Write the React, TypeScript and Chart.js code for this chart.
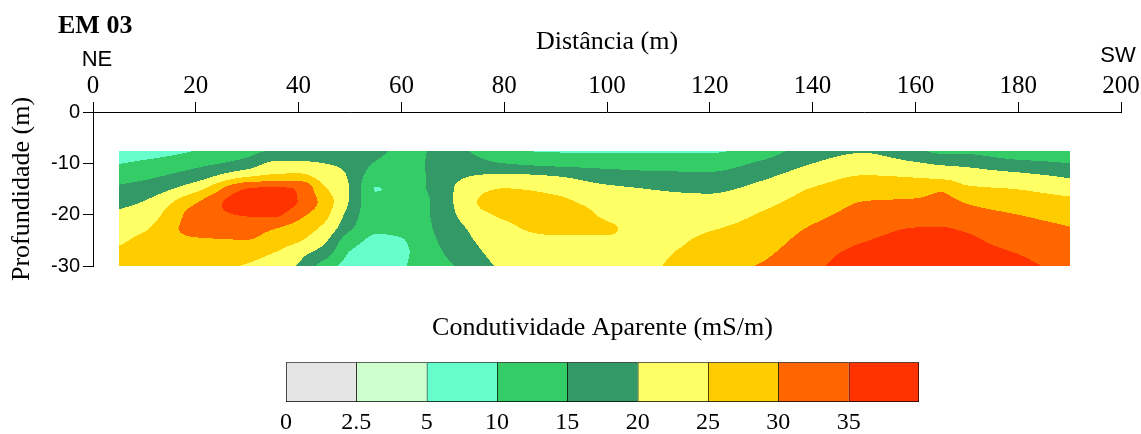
import React, { useEffect, useRef } from 'react';
import { Chart, registerables } from 'chart.js';

Chart.register(...registerables);

const SERIF = '"Liberation Serif", "Times New Roman", serif';
const SANS = '"Liberation Sans", Arial, sans-serif';

// Station positions along the profile (m) and investigation depths (m)
const distances = [5, 10, 20, 30, 35, 40, 45, 50, 55, 60, 70, 80, 90, 100, 110, 120, 130, 140, 150, 160, 165, 170, 180, 190];
const depths = [-7.5, -10, -12.5, -15, -17.5, -20, -22.5, -25, -27.5, -30];

// Apparent conductivity (mS/m), one row per depth, one value per station
const condAt7_5 = [6.5, 7, 10, 13, 15.5, 17.5, 17.5, 17, 16.5, 14, 16, 10.6, 9.4, 9.3, 9.3, 9.3, 12.2, 17.5, 19.5, 16, 13.5, 13.5, 11, 12];
const condAt10 = [9.8, 11, 13.6, 17, 20.8, 20.7, 20, 19, 14.6, 13, 17.5, 15, 13.5, 13.1, 12.8, 12.8, 15.8, 20, 22.2, 20.5, 19.3, 18.8, 16.5, 15];
const condAt12_5 = [12.9, 14, 17.6, 24.5, 26, 26.5, 22.5, 19.5, 12, 12, 19, 21, 20, 17.5, 16.4, 16.1, 19, 22.7, 25.2, 24.6, 23.7, 22.5, 21.3, 19.4];
const condAt15 = [16, 17.2, 23.4, 35.2, 36, 34.6, 25.8, 19.7, 9.9, 11.2, 19.9, 25.2, 23.5, 21, 19.8, 19.2, 21.5, 25.3, 27.6, 27.8, 29.3, 26, 24.9, 22.9];
const condAt17_5 = [18.6, 20.2, 29.5, 38, 38.5, 34.8, 28, 19.5, 11, 10.8, 19.9, 28.5, 26.4, 22.8, 21.2, 21.2, 23.6, 27.1, 30.1, 30.7, 31.6, 29.6, 27.7, 26.4];
const condAt20 = [20.8, 22.3, 32, 35.5, 36, 31.5, 26.5, 18, 11.3, 11, 19.5, 26, 28, 24.2, 22.2, 22.8, 25.4, 28.7, 31.6, 32.8, 33.4, 31.8, 30, 28.6];
const condAt22_5 = [22.5, 24.3, 31.6, 31.7, 30.5, 28, 24, 16, 10.6, 10.8, 18.5, 23.8, 26.8, 25.5, 23, 24.5, 26.8, 30.4, 33.3, 35, 35.1, 34.3, 31.5, 30.1];
const condAt25 = [24.1, 26.3, 29.5, 29.9, 28, 25.5, 21, 12, 9.3, 9.8, 17.5, 22.5, 23.8, 24.5, 23.7, 26.1, 28, 31.8, 34.8, 36.3, 36.5, 35.8, 33, 31.4];
const condAt27_5 = [26.2, 27.5, 28, 27, 25, 21.5, 17.5, 9.7, 8.2, 9.3, 16.2, 21.5, 22.4, 23.5, 24.3, 27.5, 29.2, 33, 36.3, 37.2, 37.3, 36.8, 34.9, 32.5];
const condAt30 = [27.5, 28.5, 27, 24.5, 22, 19.6, 12.5, 8.5, 7.5, 9.5, 14.8, 20.6, 21.5, 23, 24.8, 28.6, 30.3, 34, 37.5, 37.8, 37.8, 37.5, 36, 33.6];

const conductivityRows = [condAt7_5, condAt10, condAt12_5, condAt15, condAt17_5, condAt20, condAt22_5, condAt25, condAt27_5, condAt30];

// Colour classes (upper limits) and the colour scale labels
const classLimits = [2.5, 5, 10, 15, 20, 25, 30, 35];
const classColors = ['#e5e5e5', '#ccffcc', '#66ffcc', '#33cc66', '#339966', '#ffff66', '#ffcc00', '#ff6600', '#ff3300'];
const classLabels = ['0', '2.5', '5', '10', '15', '20', '25', '30', '35'];

// Monotone piecewise cubic (PCHIP) helpers
function pchipSlopes(xs: number[], ys: number[]): number[] {
  const n = xs.length;
  const h: number[] = [];
  const d: number[] = [];
  for (let i = 0; i < n - 1; i++) {
    h.push(xs[i + 1] - xs[i]);
    d.push((ys[i + 1] - ys[i]) / h[i]);
  }
  const m = new Array(n).fill(0);
  for (let i = 1; i < n - 1; i++) {
    if (d[i - 1] * d[i] <= 0) {
      m[i] = 0;
    } else {
      const w1 = 2 * h[i] + h[i - 1];
      const w2 = h[i] + 2 * h[i - 1];
      m[i] = (w1 + w2) / (w1 / d[i - 1] + w2 / d[i]);
    }
  }
  m[0] = d[0];
  m[n - 1] = d[n - 2];
  return m;
}

function pchipEval(xs: number[], ys: number[], m: number[], x: number): number {
  const n = xs.length;
  if (x <= xs[0]) return ys[0];
  if (x >= xs[n - 1]) return ys[n - 1];
  let i = 0;
  while (i < n - 2 && x > xs[i + 1]) i++;
  const h = xs[i + 1] - xs[i];
  const t = (x - xs[i]) / h;
  const t2 = t * t;
  const t3 = t2 * t;
  return (2 * t3 - 3 * t2 + 1) * ys[i] + (t3 - 2 * t2 + t) * h * m[i] + (-2 * t3 + 3 * t2) * ys[i + 1] + (t3 - t2) * h * m[i + 1];
}

function hexToRgb(hex: string): number[] {
  const v = parseInt(hex.slice(1), 16);
  return [(v >> 16) & 255, (v >> 8) & 255, v & 255];
}

function classIndex(v: number): number {
  let k = 0;
  while (k < classLimits.length && v >= classLimits[k]) k++;
  return k;
}

// Filled conductivity section, sampled pixel by pixel through the chart scales
const sectionPlugin = {
  id: 'conductivitySection',
  afterDraw(chart: any) {
    const { ctx } = chart;
    const xs = chart.scales.x;
    const ys = chart.scales.y;
    const left = Math.round(xs.getPixelForValue(distances[0]));
    const right = Math.round(xs.getPixelForValue(distances[distances.length - 1]));
    const top = Math.round(ys.getPixelForValue(depths[0]));
    const bottom = Math.round(ys.getPixelForValue(depths[depths.length - 1]));
    const w = right - left;
    const h = bottom - top;
    if (w > 0 && h > 0) {
      const off = document.createElement('canvas');
      off.width = w;
      off.height = h;
      const octx = off.getContext('2d')!;
      const img = octx.createImageData(w, h);
      const rgb = classColors.map(hexToRgb);
      const depthKeys = depths.map((d) => -d);
      const columns = distances.map((_, j) => conductivityRows.map((r) => r[j]));
      const colSlopes = columns.map((c) => pchipSlopes(depthKeys, c));
      for (let py = 0; py < h; py++) {
        const depth = -ys.getValueForPixel(top + py + 0.5);
        const rowVals = columns.map((c, j) => pchipEval(depthKeys, c, colSlopes[j], depth));
        const rowSlopes = pchipSlopes(distances, rowVals);
        for (let px = 0; px < w; px++) {
          const dist = xs.getValueForPixel(left + px + 0.5);
          const v = pchipEval(distances, rowVals, rowSlopes, dist);
          const c = rgb[classIndex(v)];
          const o = (py * w + px) * 4;
          img.data[o] = c[0];
          img.data[o + 1] = c[1];
          img.data[o + 2] = c[2];
          img.data[o + 3] = 255;
        }
      }
      octx.putImageData(img, 0, 0);
      ctx.drawImage(off, left, top);
    }

    // Section name and profile orientation
    ctx.save();
    ctx.fillStyle = '#000';
    ctx.textBaseline = 'alphabetic';
    ctx.textAlign = 'left';
    ctx.font = `bold 26px ${SERIF}`;
    ctx.fillText('EM 03', 58, 33);
    ctx.font = `22px ${SANS}`;
    ctx.textAlign = 'center';
    ctx.fillText('NE', xs.getPixelForValue(0) + 4, 66);
    ctx.fillText('SW', xs.getPixelForValue(200) - 3, 62);
    ctx.restore();
  },
};

const tickMarks = { display: true, drawOnChartArea: false, drawTicks: true, tickLength: 10, color: '#000', lineWidth: 1 };
const axisLine = { display: true, color: '#000', width: 1 };

export default function App() {
  const sectionRef = useRef<HTMLCanvasElement>(null);
  const scaleRef = useRef<HTMLCanvasElement>(null);

  useEffect(() => {
    const section = new Chart(sectionRef.current!, {
      type: 'scatter',
      data: { datasets: [] },
      options: {
        responsive: false,
        animation: false,
        devicePixelRatio: 1,
        layout: { padding: { left: 0, top: 0, right: 20, bottom: 34 } },
        plugins: { legend: { display: false }, tooltip: { enabled: false } },
        scales: {
          x: {
            type: 'linear',
            position: 'top',
            min: 0,
            max: 200,
            ticks: { stepSize: 20, color: '#000', font: { family: SERIF, size: 25 }, padding: 1, maxRotation: 0, autoSkip: false },
            grid: tickMarks,
            border: axisLine,
            title: { display: true, text: 'Distância (m)', color: '#000', font: { family: SERIF, size: 26 }, padding: { top: 27, bottom: 0 } },
            afterFit: (s: any) => { s.height = 112; },
          },
          y: {
            type: 'linear',
            position: 'left',
            min: -30,
            max: 0,
            ticks: { stepSize: 10, color: '#000', font: { family: SANS, size: 20 }, padding: 3, callback: (v: any) => String(v) },
            grid: tickMarks,
            border: axisLine,
            title: { display: true, text: 'Profundidade (m)', color: '#000', font: { family: SERIF, size: 26 }, padding: { top: 7, bottom: 0 } },
            afterFit: (s: any) => { s.width = 93; },
          },
        },
      } as any,
      plugins: [sectionPlugin],
    });

    const colourScale = new Chart(scaleRef.current!, {
      type: 'bar',
      data: {
        labels: [''],
        datasets: classColors.map((c, i) => ({
          label: classLabels[i],
          data: [1],
          backgroundColor: c,
          borderColor: '#000',
          borderWidth: i === classColors.length - 1 ? 1 : { left: 1, top: 1, bottom: 1, right: 0 },
          borderSkipped: false,
          barPercentage: 1,
          categoryPercentage: 1,
        })),
      },
      options: {
        indexAxis: 'y',
        responsive: false,
        animation: false,
        devicePixelRatio: 1,
        layout: { padding: { left: 286, right: 222, top: 0, bottom: 0 } },
        plugins: {
          legend: { display: false },
          tooltip: { enabled: false },
          title: {
            display: true,
            text: 'Condutividade Aparente (mS/m)',
            color: '#000',
            font: { family: SERIF, size: 26, weight: 'normal' },
            padding: { top: 13, bottom: 18 },
          },
        },
        scales: {
          x: {
            type: 'linear',
            stacked: true,
            min: 0,
            max: 9,
            position: 'bottom',
            ticks: {
              stepSize: 1,
              autoSkip: false,
              maxRotation: 0,
              color: '#000',
              font: { family: SERIF, size: 24 },
              padding: 6,
              callback: (v: any) => classLabels[v] ?? '',
            },
            grid: { display: false, drawTicks: false },
            border: { display: false },
            afterFit: (s: any) => { s.height = 32; },
          },
          y: { stacked: true, display: false },
        },
      } as any,
    });

    return () => {
      section.destroy();
      colourScale.destroy();
    };
  }, []);

  return (
    <div style={{ position: 'absolute', left: 0, top: 0, width: 1141, height: 434, background: '#fff' }}>
      <canvas ref={sectionRef} width={1141} height={300} style={{ position: 'absolute', left: 0, top: 0, width: 1141, height: 300 }} />
      <canvas ref={scaleRef} width={1141} height={134} style={{ position: 'absolute', left: 0, top: 300, width: 1141, height: 134 }} />
    </div>
  );
}
